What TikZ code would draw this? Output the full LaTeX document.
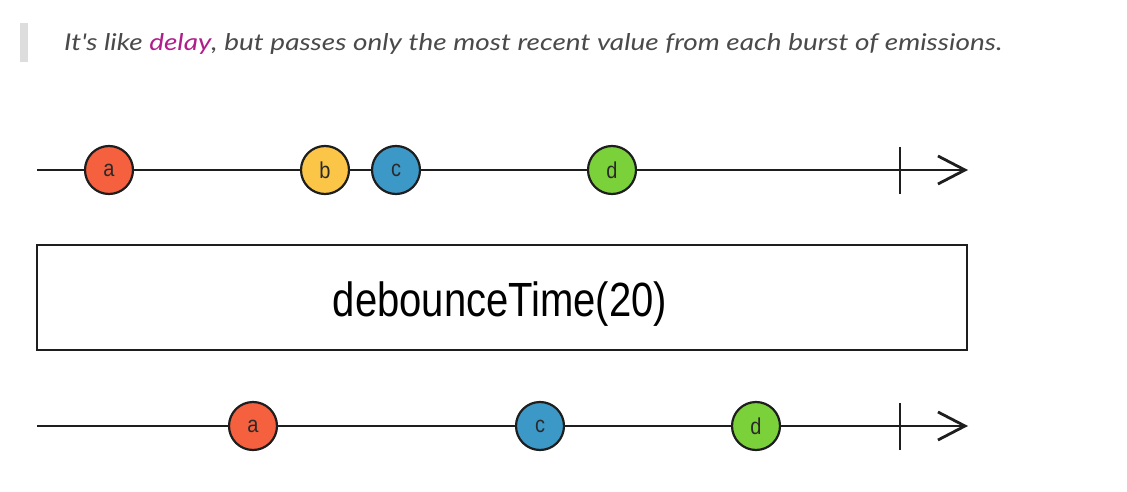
\documentclass[tikz,border=0pt]{standalone}
\usepackage{fontspec}
\setmainfont{Liberation Sans}
\newfontfamily\quotefont{Lato}
\usetikzlibrary{arrows.meta}
\definecolor{inkline}{HTML}{1E1E1E}
\definecolor{letterink}{HTML}{2A2A2A}
\definecolor{quotegray}{HTML}{4A4A4A}
\definecolor{quotemag}{HTML}{B01E8C}
\definecolor{barbg}{HTML}{DDDDDD}
\definecolor{mred}{HTML}{F5603F}
\definecolor{myellow}{HTML}{FBC548}
\definecolor{mblue}{HTML}{3C99C7}
\definecolor{mgreen}{HTML}{7BD13A}
\newcommand{\marblelabel}[1]{\scalebox{1}[1.15]{\fontsize{20}{20}\selectfont #1}}
\tikzset{
  timeline/.style={draw=inkline, line width=2.8pt, -{Straight Barb[length=27pt,width=28pt,line width=2.8pt]}},
  endtick/.style={draw=inkline, line width=2.8pt},
  marble/.style={circle, draw=inkline, line width=2.2pt, minimum size=48pt, inner sep=0pt,
    text=letterink},
  opbox/.style={draw=inkline, line width=2.2pt, minimum width=930pt, minimum height=105pt,
    inner sep=0pt},
  optext/.style={inner sep=0pt, anchor=base, text=black}
}
\begin{document}
\begin{tikzpicture}[x=1pt,y=-1pt]
\useasboundingbox[fill=white] (0,0) rectangle (1127,492);
% quote bar and text
\fill[barbg] (20,23) rectangle (28,62);
\node[anchor=base west, inner sep=0pt, text=quotegray] (quote) at (64,51)
  {\resizebox{938pt}{17pt}{\quotefont\itshape\fontsize{22}{26}\selectfont It's like \textcolor{quotemag}{delay}, but passes only the most recent value from each burst of emissions.}};
% top timeline
\coordinate (t1s) at (37,170);
\coordinate (t1e) at (968,170);
\coordinate (t1ka) at (900,147);
\coordinate (t1kb) at (900,194);
\draw[timeline] (t1s) -- (t1e);
\draw[endtick] (t1ka) -- (t1kb);
\node[marble, fill=mred] (ia) at (109,170) {\marblelabel{a}};
\node[marble, fill=myellow] (ib) at (325,170) {\marblelabel{b}};
\node[marble, fill=mblue] (ic) at (396,170) {\marblelabel{c}};
\node[marble, fill=mgreen] (id) at (612,170) {\marblelabel{d}};
% operator box
\node[opbox] (op) at (502,297.5) {};
\node[optext] (optitle) at (500,316) {\scalebox{1}[1.2]{\fontsize{40}{44}\selectfont debounceTime(20)}};
% bottom timeline
\coordinate (t2s) at (37,426);
\coordinate (t2e) at (968,426);
\coordinate (t2ka) at (900,403);
\coordinate (t2kb) at (900,450);
\draw[timeline] (t2s) -- (t2e);
\draw[endtick] (t2ka) -- (t2kb);
\node[marble, fill=mred] (oa) at (253,426) {\marblelabel{a}};
\node[marble, fill=mblue] (oc) at (540,426) {\marblelabel{c}};
\node[marble, fill=mgreen] (od) at (756,426) {\marblelabel{d}};
\end{tikzpicture}
\end{document}
